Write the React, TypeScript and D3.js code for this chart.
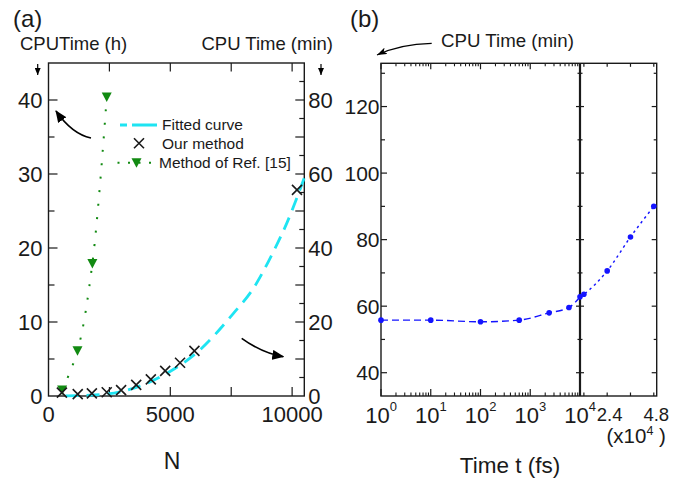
import React from 'react';
import * as d3 from 'd3';

const FONT = '"Liberation Sans", Arial, Helvetica, sans-serif';

// ---------- Panel (a) data ----------
const nTickLabels = [0, 5000, 10000];
const nTicks = [2500, 5000, 7500, 10000];
const hourTickLabels = [0, 10, 20, 30, 40];
const minTickLabels = [0, 20, 40, 60, 80];

const ourN = [550, 1200, 1780, 2390, 2980, 3600, 4200, 4790, 5400, 5990, 10200];
const ourMin = [0.9, 0.5, 0.7, 1.0, 1.6, 3.0, 4.5, 6.8, 9.0, 12.2, 55.7];
const refN = [560, 1190, 1800, 2390];
const refH = [0.8, 6.1, 17.9, 40.4];
const fitN = [700, 1700, 3000, 4850, 6100, 7600, 8400, 9200, 9800, 10500];
const fitMin = [0.05, 0.2, 1.2, 6.1, 11.8, 22.4, 29.0, 38.6, 47.0, 59.0];

const legendLabels = ['Fitted curve', 'Our method', 'Method of Ref. [15]'];

// ---------- Panel (b) data ----------
const tLog = [1, 10, 100, 600, 2400, 6000, 10000];
const vLog = [55.8, 55.8, 55.3, 55.8, 58.0, 59.6, 62.8];
const tLin = [12000, 24000, 36000, 48000];
const vLin = [63.6, 70.6, 80.8, 90.0];
const decadeExps = [0, 1, 2, 3, 4];
const linTicks = [12000, 24000, 36000, 48000];
const linTickLabels = [24000, 48000];
const yBTickLabels = [40, 60, 80, 100, 120];
const yBMinor = [50, 70, 90, 110, 130];

const INK = '#1a1a1a';
const CYAN = '#1ee4f2';
const GREEN = '#128a12';
const BLUE = '#1414ff';

export default function App() {
  // scales panel (a)
  const xA = d3.scaleLinear().domain([0, 10500]).range([48.5, 304.3]);
  const yAh = d3.scaleLinear().domain([0, 45]).range([396, 63]);
  const yAm = d3.scaleLinear().domain([0, 90]).range([396, 63]);

  // scales panel (b)
  const xLog = d3.scaleLog().domain([1, 1e4]).range([381, 580]);
  const xLin = d3.scaleLinear().domain([1e4, 4.95e4]).range([580, 656.7]);
  const yB = d3.scaleLinear().domain([33, 133]).range([396, 63.3]);

  const aL = xA.range()[0], aR = xA.range()[1], aT = yAh.range()[1], aB = yAh.range()[0];
  const bL = xLog.range()[0], bR = xLin.range()[1], bT = yB.range()[1], bB = yB.range()[0];
  const bBreak = xLog(1e4);

  const fitLine = d3.line<number>().x((_, i) => xA(fitN[i])).y((_, i) => yAm(fitMin[i])).curve(d3.curveMonotoneX);
  const refLine = d3.line<number>().x((_, i) => xA(refN[i])).y((_, i) => yAh(refH[i])).curve(d3.curveCatmullRom);

  const logPts: [number, number][] = tLog.map((t, i) => [xLog(t), yB(vLog[i])]);
  const linPts: [number, number][] = [[xLog(tLog[tLog.length - 1]), yB(vLog[vLog.length - 1])], ...tLin.map((t, i) => [xLin(t), yB(vLin[i])] as [number, number])];
  const ptLine = d3.line().curve(d3.curveMonotoneX);

  const cross = (cx: number, cy: number, s = 5, key?: any) => (
    <path key={key} d={`M${cx - s},${cy - s}L${cx + s},${cy + s}M${cx - s},${cy + s}L${cx + s},${cy - s}`} stroke={INK} strokeWidth={1.6} fill="none" />
  );
  const tri = (cx: number, cy: number, key?: any) => (
    <path key={key} d={`M${cx - 5},${cy - 4.5}L${cx + 5},${cy - 4.5}L${cx},${cy + 5}Z`} fill={GREEN} />
  );

  // tick arrays
  const hTicks = d3.range(5, 45, 5);
  const mTicks = d3.range(5, 90, 5);
  const logMinor: number[] = [];
  for (let e = 0; e < 4; e++) for (let k = 2; k <= 9; k++) logMinor.push(k * Math.pow(10, e));

  return (
    <svg width={689} height={478} style={{ position: 'absolute', left: 0, top: 0, background: '#fff' }} fontFamily={FONT}>
      <defs>
        <marker id="headA" markerUnits="userSpaceOnUse" markerWidth={12} markerHeight={10} viewBox="0 0 12 10" refX={11} refY={5} orient="auto">
          <path d="M0,0L12,5L0,10Z" fill="#000" />
        </marker>
        <marker id="headS" markerUnits="userSpaceOnUse" markerWidth={7} markerHeight={6} viewBox="0 0 7 6" refX={7} refY={3} orient="auto">
          <path d="M0,0L7,3L0,6Z" fill="#000" />
        </marker>
        <marker id="headB" markerUnits="userSpaceOnUse" markerWidth={10} markerHeight={7} viewBox="0 0 10 7" refX={10} refY={3.5} orient="auto">
          <path d="M0,0L10,3.5L0,7L2.5,3.5Z" fill="#000" />
        </marker>
      </defs>

      {/* ================= Panel (a) ================= */}
      <text x={13} y={27} fontSize={24} fill={INK}>(a)</text>
      <text x={20} y={50} fontSize={18.5} fill={INK}>CPUTime (h)</text>
      <text x={333} y={50} fontSize={18.5} fill={INK} textAnchor="end">CPU Time (min)</text>
      <path d="M37.7,64L37.7,75" stroke="#000" strokeWidth={1.2} markerEnd="url(#headS)" />
      <path d="M321,64L321,75" stroke="#000" strokeWidth={1.2} markerEnd="url(#headS)" />

      {/* ticks */}
      {hTicks.map(h => (
        <line key={'hl' + h} x1={aL} x2={aL + (h % 10 === 0 ? 9 : 6)} y1={yAh(h)} y2={yAh(h)} stroke={INK} strokeWidth={1.2} />
      ))}
      {mTicks.map(m => (
        <line key={'mr' + m} x1={aR} x2={aR - (m % 10 === 0 ? 9 : 5)} y1={yAm(m)} y2={yAm(m)} stroke={INK} strokeWidth={1.2} />
      ))}
      {nTicks.map(n => (
        <g key={'nt' + n}>
          <line x1={xA(n)} x2={xA(n)} y1={aB} y2={aB - 9} stroke={INK} strokeWidth={1.2} />
          <line x1={xA(n)} x2={xA(n)} y1={aT} y2={aT + 8.5} stroke={INK} strokeWidth={1.2} />
        </g>
      ))}
      <rect x={aL} y={aT} width={aR - aL} height={aB - aT} fill="none" stroke={INK} strokeWidth={1.4} />

      {/* tick labels */}
      {hourTickLabels.map(h => (
        <text key={'hL' + h} x={aL - 6} y={yAh(h)} dy="0.36em" fontSize={22} textAnchor="end" fill={INK}>{h}</text>
      ))}
      {minTickLabels.map(m => (
        <text key={'mL' + m} x={aR + 4} y={yAm(m)} dy="0.36em" fontSize={22} textAnchor="start" fill={INK}>{m}</text>
      ))}
      {nTickLabels.map(n => (
        <text key={'nL' + n} x={xA(n)} y={421.5} fontSize={22} textAnchor="middle" fill={INK}>{n}</text>
      ))}
      <text x={172} y={469} fontSize={23} textAnchor="middle" fill={INK}>N</text>

      {/* data (a) */}
      <path d={fitLine(fitN) || ''} fill="none" stroke={CYAN} strokeWidth={2.8} strokeDasharray="13 8" />
      <path d={refLine(refN) || ''} fill="none" stroke={GREEN} strokeWidth={2} strokeDasharray="2 11.5" />
      {refN.map((n, i) => tri(xA(n), yAh(refH[i]), 'tr' + i))}
      {ourN.map((n, i) => cross(xA(n), yAm(ourMin[i]), 5, 'cr' + i))}

      {/* legend */}
      <path d="M120,125L157,125" stroke={CYAN} strokeWidth={2.8} strokeDasharray="7 5 25" />
      <text x={162} y={125} dy="0.35em" fontSize={15.5} fill={INK}>{legendLabels[0]}</text>
      {cross(139, 143.3, 5)}
      <text x={162} y={143.3} dy="0.35em" fontSize={15.5} fill={INK}>{legendLabels[1]}</text>
      <path d="M117.5,162.7L157,162.7" stroke={GREEN} strokeWidth={2} strokeDasharray="2 8.5" />
      {tri(136.5, 162.7)}
      <text x={159} y={162.7} dy="0.35em" fontSize={15.5} fill={INK}>{legendLabels[2]}</text>

      {/* arrows (a) */}
      <path d="M91,138Q72,134 56,111" fill="none" stroke="#000" strokeWidth={1.6} markerEnd="url(#headA)" />
      <path d="M241.7,338.3Q262,353 283.3,356.7" fill="none" stroke="#000" strokeWidth={1.6} markerEnd="url(#headA)" />

      {/* ================= Panel (b) ================= */}
      <text x={350} y={27} fontSize={24} fill={INK}>(b)</text>
      <text x={441} y={46.7} fontSize={18.7} fill={INK}>CPU Time (min)</text>
      <path d="M431.7,43.3Q400,44 377,55" fill="none" stroke="#000" strokeWidth={1.2} markerEnd="url(#headB)" />

      {/* y ticks */}
      {yBTickLabels.map(v => (
        <g key={'yb' + v}>
          <line x1={bL} x2={bL + 6} y1={yB(v)} y2={yB(v)} stroke={INK} strokeWidth={1.2} />
          <line x1={bR} x2={bR - 5} y1={yB(v)} y2={yB(v)} stroke={INK} strokeWidth={1.2} />
          <line x1={bBreak - 4} x2={bBreak + 4} y1={yB(v)} y2={yB(v)} stroke={INK} strokeWidth={1.2} />
        </g>
      ))}
      {yBMinor.map(v => (
        <g key={'ybm' + v}>
          <line x1={bL} x2={bL + 4} y1={yB(v)} y2={yB(v)} stroke={INK} strokeWidth={1.2} />
          <line x1={bR} x2={bR - 3} y1={yB(v)} y2={yB(v)} stroke={INK} strokeWidth={1.2} />
          <line x1={bBreak - 2.5} x2={bBreak + 2.5} y1={yB(v)} y2={yB(v)} stroke={INK} strokeWidth={1.2} />
        </g>
      ))}
      {/* x ticks log */}
      {decadeExps.map(e => (
        <g key={'dx' + e}>
          <line x1={xLog(Math.pow(10, e))} x2={xLog(Math.pow(10, e))} y1={bB} y2={bB - 7} stroke={INK} strokeWidth={1.2} />
          <line x1={xLog(Math.pow(10, e))} x2={xLog(Math.pow(10, e))} y1={bT} y2={bT + 6} stroke={INK} strokeWidth={1.2} />
        </g>
      ))}
      {logMinor.map(t => (
        <g key={'lm' + t}>
          <line x1={xLog(t)} x2={xLog(t)} y1={bB} y2={bB - 3.5} stroke={INK} strokeWidth={1.1} />
          <line x1={xLog(t)} x2={xLog(t)} y1={bT} y2={bT + 3} stroke={INK} strokeWidth={1.1} />
        </g>
      ))}
      {linTicks.map(t => (
        <g key={'lt' + t}>
          <line x1={xLin(t)} x2={xLin(t)} y1={bB} y2={bB - 3.5} stroke={INK} strokeWidth={1.2} />
          <line x1={xLin(t)} x2={xLin(t)} y1={bT} y2={bT + 3.5} stroke={INK} strokeWidth={1.2} />
        </g>
      ))}
      <rect x={bL} y={bT} width={bR - bL} height={bB - bT} fill="none" stroke={INK} strokeWidth={1.4} />
      <line x1={bBreak} x2={bBreak} y1={bT} y2={bB} stroke={INK} strokeWidth={2.2} />

      {/* tick labels (b) */}
      {yBTickLabels.map(v => (
        <text key={'ybl' + v} x={bL - 1.5} y={yB(v)} dy="0.36em" fontSize={21} textAnchor="end" fill={INK}>{v}</text>
      ))}
      {decadeExps.map(e => (
        <text key={'dl' + e} x={xLog(Math.pow(10, e))} y={423} fontSize={22} textAnchor="middle" fill={INK}>
          10<tspan dy={-12.5} fontSize={13}>{e}</tspan>
        </text>
      ))}
      {linTickLabels.map(t => (
        <text key={'ltl' + t} x={xLin(t) + 2.5} y={420.5} fontSize={18.5} textAnchor="middle" fill={INK}>{(t / 1e4).toFixed(1)}</text>
      ))}
      <text x={606.5} y={443} fontSize={20.5} fill={INK}>
        (x10<tspan dy={-8} fontSize={12.5}>4</tspan><tspan dy={8}> )</tspan>
      </text>
      <text x={510} y={473} fontSize={22.5} textAnchor="middle" fill={INK}>Time t (fs)</text>

      {/* data (b) */}
      <path d={ptLine(logPts) || ''} fill="none" stroke={BLUE} strokeWidth={1.4} strokeDasharray="7 4" />
      <path d={ptLine(linPts) || ''} fill="none" stroke={BLUE} strokeWidth={1.4} strokeDasharray="2.5 3.5" />
      {logPts.map((p, i) => <circle key={'bp' + i} cx={p[0]} cy={p[1]} r={2.8} fill={BLUE} />)}
      {tLin.map((t, i) => <circle key={'bq' + i} cx={xLin(t)} cy={yB(vLin[i])} r={2.8} fill={BLUE} />)}
    </svg>
  );
}
